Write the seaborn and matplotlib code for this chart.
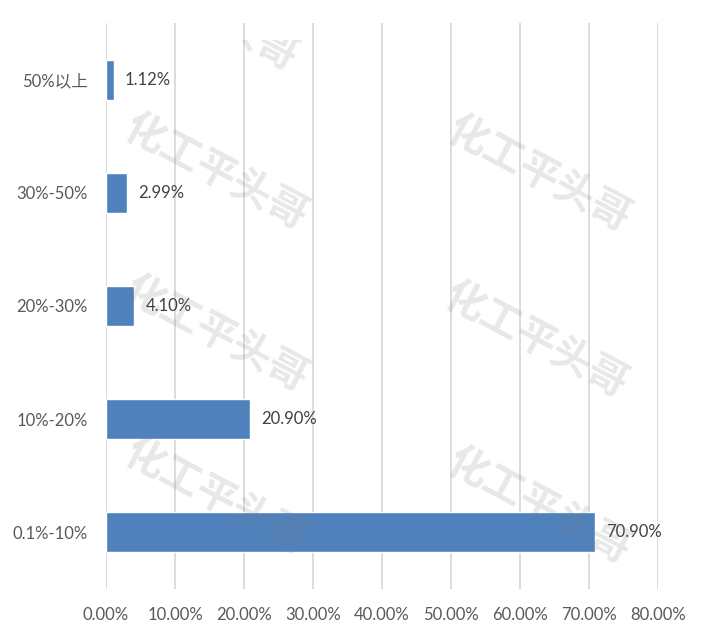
import matplotlib
matplotlib.use("Agg")
import matplotlib.pyplot as plt
import seaborn as sns

# ---- data ----
categories = ['50%以上', '30%-50%', '20%-30%', '10%-20%', '0.1%-10%']
values = [1.12, 2.99, 4.10, 20.90, 70.90]
x_ticks = [0, 10, 20, 30, 40, 50, 60, 70, 80]
x_tick_labels = [f"{t:.2f}%" for t in x_ticks]
value_labels = [f"{v:.2f}%" for v in values]
watermark_text = '化工平头哥'

sns.set_theme(style='white')
plt.rcParams['font.family'] = ['Lato', 'Noto Sans CJK SC', 'DejaVu Sans']

W, H = 728, 638
fig = plt.figure(figsize=(W / 100, H / 100), dpi=100)
fig.patch.set_facecolor('white')

left, right, top, bottom = 106, 658, 23, 589
ax = fig.add_axes([left / W, 1 - bottom / H, (right - left) / W, (bottom - top) / H])

sns.barplot(x=values, y=categories, orient='h', color='#4F81BD',
            saturation=1, width=0.354, ax=ax, zorder=2)

ax.set_xlim(0, 80)
ax.set_xticks(x_ticks)
ax.set_xticklabels(x_tick_labels)
ax.set_xlabel('')
ax.set_ylabel('')
ax.xaxis.grid(True, color='#D9D9D9', linewidth=1.3)
ax.yaxis.grid(False)
ax.set_axisbelow(True)
for s in ax.spines.values():
    s.set_visible(False)
ax.tick_params(axis='x', length=0, pad=13, labelsize=12, labelcolor='#595959')
ax.tick_params(axis='y', length=0, pad=13, labelsize=12, labelcolor='#595959')

ax.bar_label(ax.containers[0], labels=value_labels, padding=8,
             fontsize=12, color='#404040')

# ---- watermark overlay ----
wy0, wy1 = 40, 575
wm = fig.add_axes([0, 1 - wy1 / H, 1, (wy1 - wy0) / H], zorder=5)
wm.set_xlim(0, W)
wm.set_ylim(wy1, wy0)
wm.axis('off')
wm.patch.set_alpha(0)
wm_positions = [(206, 14), (216, 173), (216, 335), (216, 498),
                (539, 175), (536, 341), (539, 507)]
for (px, py) in wm_positions:
    wm.text(px, py, watermark_text, family=['Noto Sans CJK SC'],
            fontsize=29, fontweight='bold', color='#7f7f7f', alpha=0.18,
            rotation=-28, rotation_mode='anchor', ha='center', va='center',
            clip_on=True)

fig.savefig('out.png', dpi=100, facecolor='white')
